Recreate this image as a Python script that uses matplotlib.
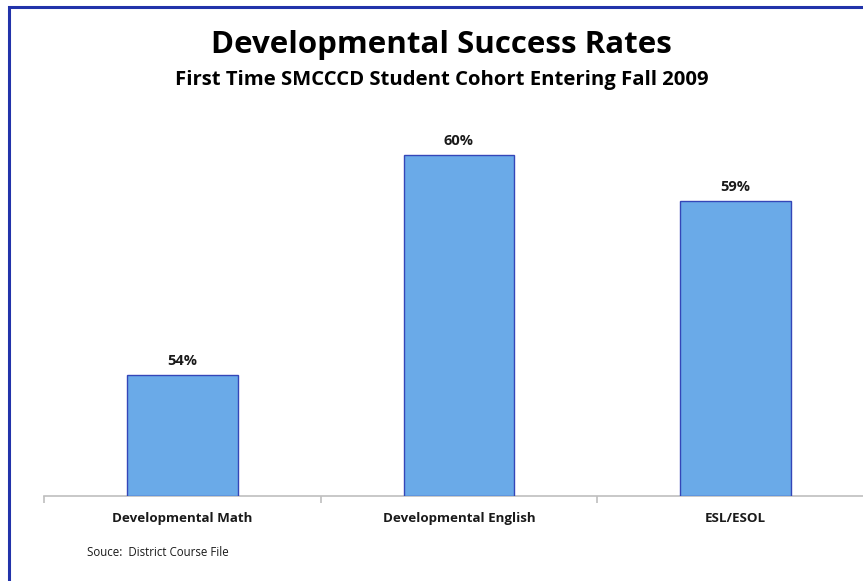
import matplotlib
matplotlib.use("Agg")
import matplotlib.pyplot as plt
from matplotlib.patches import Rectangle

categories = ["Developmental Math", "Developmental English", "ESL/ESOL"]
success_rates = [53.7, 60.4, 59.0]
value_labels = ["54%", "60%", "59%"]

W, H = 863, 581
fig = plt.figure(figsize=(W / 100, H / 100), dpi=100)
plt.rcParams['font.family'] = ['Open Sans', 'DejaVu Sans']

# border
fig.patches.append(Rectangle((9 / W, -0.2), 1.2, 1.2 - 6.5 / H, transform=fig.transFigure,
                             fill=False, edgecolor='#2233aa', linewidth=2.2, clip_on=False))

ax_left, ax_right = 44, 874
ax_bottom, ax_top = 496, 102.4
ax = fig.add_axes([ax_left / W, (H - ax_bottom) / H, (ax_right - ax_left) / W, (ax_bottom - ax_top) / H])
ax.set_facecolor('none')

x = range(len(categories))
bars = ax.bar(x, [v - 50 for v in success_rates], bottom=50, width=0.4,
              color='#6aaae8', edgecolor='#3446b8', linewidth=1.0, zorder=3)
ax.set_xlim(-0.5, 2.5)
ax.set_ylim(50, 62)

for i, (v, lab) in enumerate(zip(success_rates, value_labels)):
    ax.annotate(lab, (i, v), xytext=(0, 5), textcoords='offset points', ha='center', va='bottom',
                fontsize=10.5, fontweight='bold', color='#1a1a1a')

for s in ['top', 'right', 'left']:
    ax.spines[s].set_visible(False)
ax.spines['bottom'].set_color('#bfbfbf')
ax.spines['bottom'].set_linewidth(1.2)
ax.set_yticks([])
ax.set_xticks([-0.5, 0.5, 1.5, 2.5])
ax.set_xticklabels([])
ax.tick_params(axis='x', length=5, color='#bfbfbf', width=1.2, direction='out')
for i, c in enumerate(categories):
    ax.text(i, -0.058, c, transform=ax.get_xaxis_transform(), ha='center', va='center',
            fontsize=9.6, fontweight='bold', color='#1a1a1a')

fig.text(441 / W, 1 - 45 / H, "Developmental Success Rates", ha='center', va='center',
         fontsize=22.5, fontweight='bold', color='black')
fig.text(442 / W, 1 - 80 / H, "First Time SMCCCD Student Cohort Entering Fall 2009", ha='center', va='center',
         fontsize=14.6, fontweight='bold', color='black')
fig.text(87 / W, 1 - 553 / H, "Souce:  District Course File", ha='left', va='center',
         fontsize=8.3, color='#1a1a1a')

fig.savefig("out.png", dpi=100)
